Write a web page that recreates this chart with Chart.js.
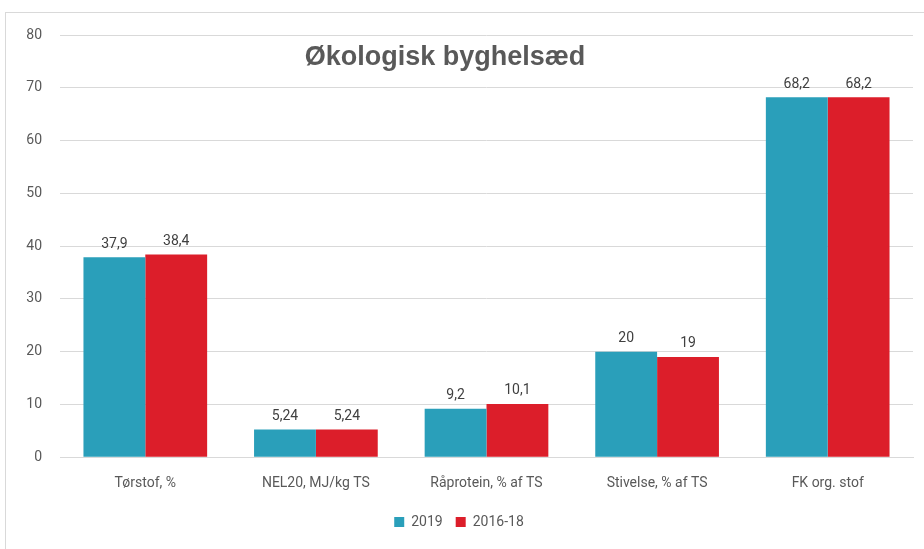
<!DOCTYPE html>
<html>
<head>
<meta charset="utf-8">
<script src="https://cdn.jsdelivr.net/npm/chart.js@4/dist/chart.umd.min.js"></script>
<style>
  html, body { margin: 0; padding: 0; background: #fff; }
  #wrap { position: relative; width: 924px; height: 549px; }
  #frame { position: absolute; left: 5px; top: 12px; width: 940px; height: 560px; border: 1px solid #d9d9d9; }
  canvas { position: absolute; left: 0; top: 0; }
</style>
</head>
<body>
<div id="wrap">
  <div id="frame"></div>
  <canvas id="c" width="924" height="549"></canvas>
</div>
<script>
// data
const categories = ['Tørstof, %', 'NEL20, MJ/kg TS', 'Råprotein, % af TS', 'Stivelse, % af TS', 'FK org. stof'];
const values2019 = [37.9, 5.24, 9.2, 20, 68.2];
const values2016_18 = [38.4, 5.24, 10.1, 19, 68.2];
const yTicks = [0, 10, 20, 30, 40, 50, 60, 70, 80];

const FONT = 'Roboto, "Liberation Sans", sans-serif';

// value labels above the bars, danish decimal comma
const barLabels = {
  id: 'barLabels',
  afterDatasetsDraw(chart) {
    const ctx = chart.ctx;
    ctx.save();
    ctx.font = '14px ' + FONT;
    ctx.fillStyle = '#404040';
    ctx.textAlign = 'center';
    ctx.textBaseline = 'bottom';
    chart.data.datasets.forEach((ds, i) => {
      chart.getDatasetMeta(i).data.forEach((bar, j) => {
        const txt = String(ds.data[j]).replace('.', ',');
        ctx.fillText(txt, bar.x, bar.y - 6);
      });
    });
    ctx.restore();
  }
};

// title overlays the plot area like in the original
const overlayTitle = {
  id: 'overlayTitle',
  afterDraw(chart) {
    const ctx = chart.ctx;
    ctx.save();
    ctx.font = 'bold 27px "Liberation Sans", Arial, sans-serif';
    ctx.fillStyle = '#595959';
    ctx.textAlign = 'center';
    ctx.textBaseline = 'middle';
    ctx.fillText('Økologisk byghelsæd', 445, 58);
    ctx.restore();
  }
};

new Chart(document.getElementById('c'), {
  type: 'bar',
  data: {
    labels: categories,
    datasets: [
      { label: '2019', data: values2019, backgroundColor: '#2a9fba' },
      { label: '2016-18', data: values2016_18, backgroundColor: '#dc1e2a' }
    ]
  },
  options: {
    responsive: false,
    animation: false,
    layout: { padding: { left: 5, right: 11, top: 35, bottom: 10 } },
    datasets: { bar: { barPercentage: 1, categoryPercentage: 0.725 } },
    scales: {
      x: {
        grid: { display: false },
        border: { color: '#d9d9d9' },
        ticks: { color: '#595959', font: { family: FONT, size: 14 }, padding: 10, maxRotation: 0 }
      },
      y: {
        min: 0, max: 80,
        afterFit(scale) { scale.width = 55; },
        afterBuildTicks(scale) { scale.ticks = yTicks.map(v => ({ value: v })); },
        grid: { color: '#d9d9d9', drawTicks: false },
        border: { display: false },
        ticks: { color: '#595959', font: { family: FONT, size: 14 }, padding: 18 }
      }
    },
    plugins: {
      legend: {
        position: 'bottom',
        labels: { color: '#595959', font: { family: FONT, size: 14 }, boxWidth: 10, boxHeight: 10, padding: 13 }
      },
      tooltip: { enabled: false }
    }
  },
  plugins: [barLabels, overlayTitle]
});
</script>
</body>
</html>
